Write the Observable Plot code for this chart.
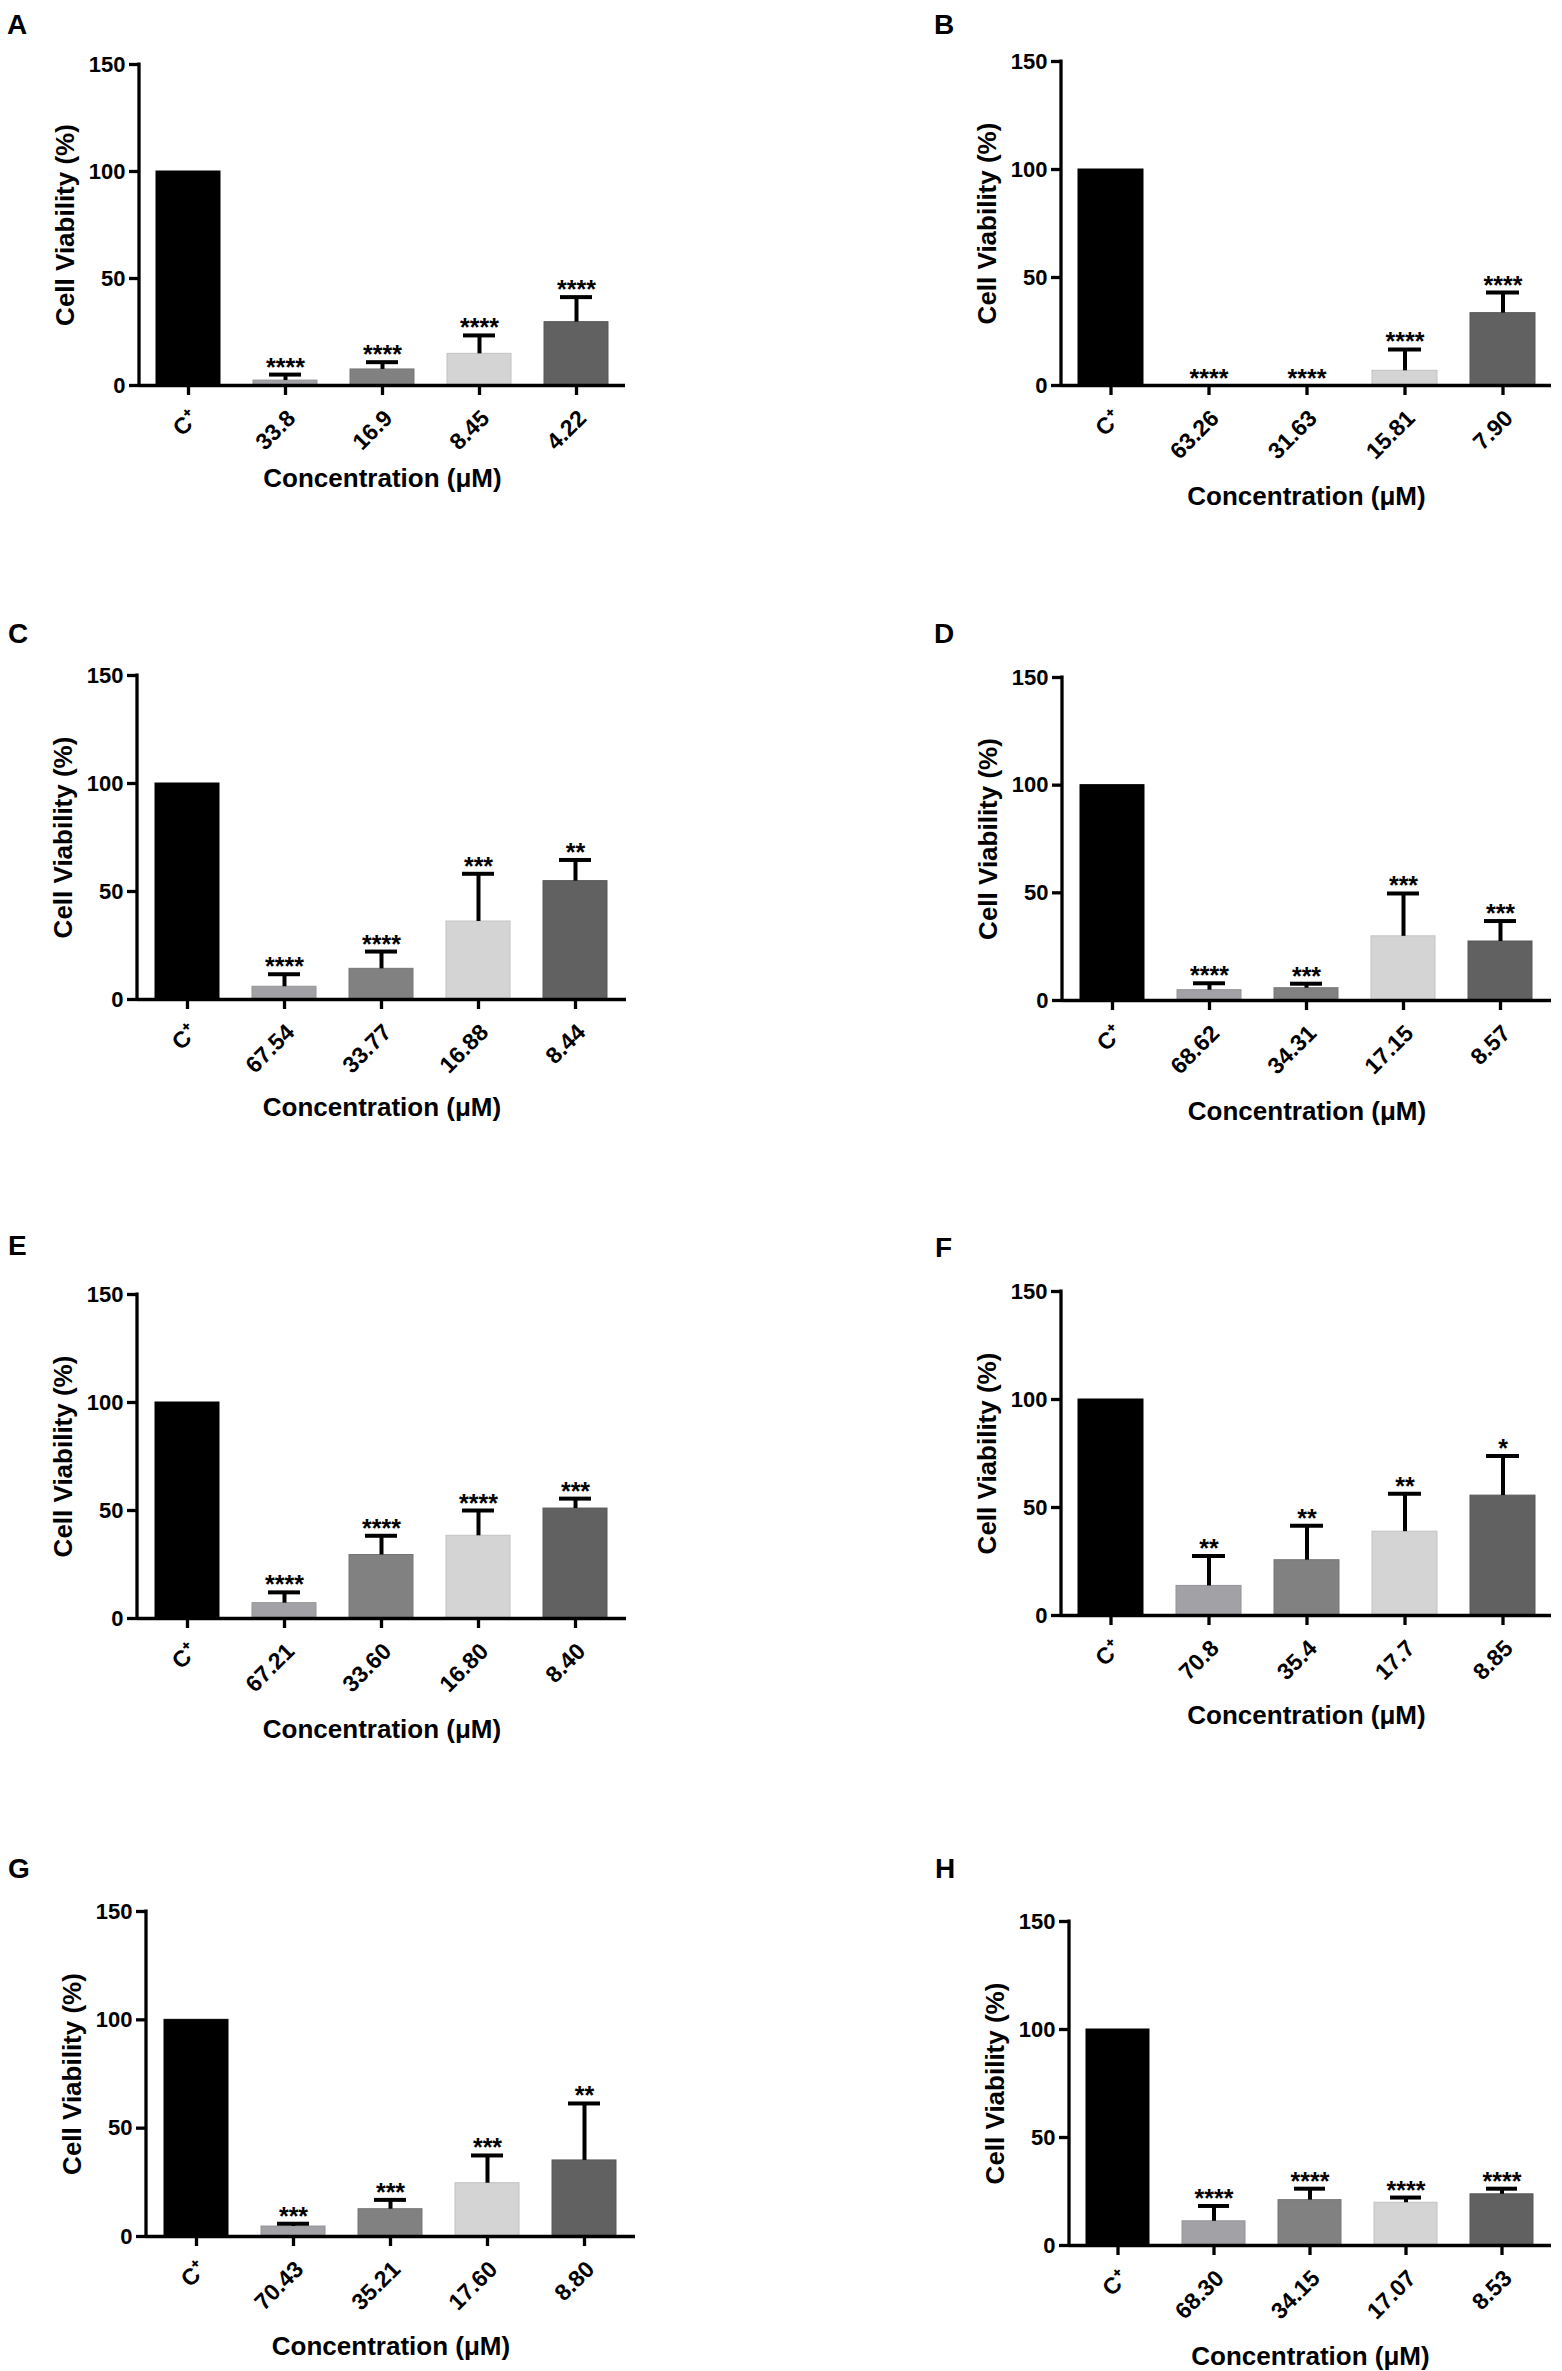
<!DOCTYPE html>
<html>
<head>
<meta charset="utf-8">
<script src="https://cdn.jsdelivr.net/npm/d3@7"></script>
<script src="https://cdn.jsdelivr.net/npm/@observablehq/plot@0.6"></script>
<style>
  html, body { margin: 0; padding: 0; background: #fff; }
  #fig { position: relative; width: 1562px; height: 2371px; background: #fff;
         font-family: "Liberation Sans", Arial, sans-serif; }
  .letter { position: absolute; font-weight: bold; font-size: 28px; line-height: 1; color: #000; }
  svg { position: absolute; overflow: visible; }
</style>
</head>
<body>
<div id="fig"></div>
<script>
// ---------- DATA ----------
const panelIds = ["A", "B", "C", "D", "E", "F", "G", "H"];

const labelsA = ["C⁺", "33.8", "16.9", "8.45", "4.22"];
const valuesA = [100, 2.3, 7.5, 14.8, 29.6];
const errorsA = [0, 2.8, 3.4, 8.6, 11.7];
const starsA  = ["", "****", "****", "****", "****"];

const labelsB = ["C⁺", "63.26", "31.63", "15.81", "7.90"];
const valuesB = [100, 0, 0, 6.8, 33.5];
const errorsB = [0, 0, 0, 9.9, 9.5];
const starsB  = ["", "****", "****", "****", "****"];

const labelsC = ["C⁺", "67.54", "33.77", "16.88", "8.44"];
const valuesC = [100, 5.9, 14.2, 36.1, 54.8];
const errorsC = [0, 5.8, 8.0, 22.1, 9.8];
const starsC  = ["", "****", "****", "***", "**"];

const labelsD = ["C⁺", "68.62", "34.31", "17.15", "8.57"];
const valuesD = [100, 4.8, 5.7, 29.8, 27.4];
const errorsD = [0, 3.2, 2.1, 19.9, 9.5];
const starsD  = ["", "****", "***", "***", "***"];

const labelsE = ["C⁺", "67.21", "33.60", "16.80", "8.40"];
const valuesE = [100, 7.1, 29.4, 38.3, 50.9];
const errorsE = [0, 5.0, 8.9, 11.7, 4.6];
const starsE  = ["", "****", "****", "****", "***"];

const labelsF = ["C⁺", "70.8", "35.4", "17.7", "8.85"];
const valuesF = [100, 13.7, 25.6, 38.8, 55.5];
const errorsF = [0, 13.9, 16.0, 17.6, 18.3];
const starsF  = ["", "**", "**", "**", "*"];

const labelsG = ["C⁺", "70.43", "35.21", "17.60", "8.80"];
const valuesG = [100, 4.6, 12.6, 24.6, 35.1];
const errorsG = [0, 1.3, 4.3, 12.8, 26.3];
const starsG  = ["", "***", "***", "***", "**"];

const labelsH = ["C⁺", "68.30", "34.15", "17.07", "8.53"];
const valuesH = [100, 11.2, 21.0, 19.8, 23.7];
const errorsH = [0, 7.1, 5.3, 2.4, 2.6];
const starsH  = ["", "****", "****", "****", "****"];

const yTicks = [0, 50, 100, 150];
const yTitle = "Cell Viability (%)";
const xTitle = "Concentration (μM)";

// ---------- STYLE / LAYOUT ----------
const barColors = ["#000000", "#a2a2a6", "#818181", "#d4d4d4", "#616161"];

const panelData = {
  A: {labels: labelsA, values: valuesA, errors: errorsA, stars: starsA},
  B: {labels: labelsB, values: valuesB, errors: errorsB, stars: starsB},
  C: {labels: labelsC, values: valuesC, errors: errorsC, stars: starsC},
  D: {labels: labelsD, values: valuesD, errors: errorsD, stars: starsD},
  E: {labels: labelsE, values: valuesE, errors: errorsE, stars: starsE},
  F: {labels: labelsF, values: valuesF, errors: errorsF, stars: starsF},
  G: {labels: labelsG, values: valuesG, errors: errorsG, stars: starsG},
  H: {labels: labelsH, values: valuesH, errors: errorsH, stars: starsH}
};

// x: y-axis position, y: top of plot (150), w/h: plot size, xl: x-title offset, lx/ly: letter
const layout = {
  A: {x: 139,  y: 64,   w: 486, h: 321, xl: 93,  lx: 7,   ly: 11},
  B: {x: 1061, y: 61,   w: 490, h: 324, xl: 111, lx: 934, ly: 11},
  C: {x: 137,  y: 675,  w: 489, h: 324, xl: 108, lx: 8,   ly: 620},
  D: {x: 1062, y: 677,  w: 489, h: 323, xl: 111, lx: 934, ly: 620},
  E: {x: 137,  y: 1294, w: 489, h: 324, xl: 111, lx: 8,   ly: 1232},
  F: {x: 1061, y: 1291, w: 490, h: 324, xl: 100, lx: 935, ly: 1234},
  G: {x: 146,  y: 1911, w: 489, h: 325, xl: 110, lx: 8,   ly: 1855},
  H: {x: 1069, y: 1921, w: 482, h: 324, xl: 111, lx: 935, ly: 1855}
};

const FONT = '"Liberation Sans", Arial, sans-serif';
const fig = document.getElementById("fig");

// left axis line drawn along the frame's left edge
function yAxisLine(index, scales, values, dims) {
  const l = document.createElementNS("http://www.w3.org/2000/svg", "line");
  l.setAttribute("x1", dims.marginLeft);
  l.setAttribute("x2", dims.marginLeft);
  l.setAttribute("y1", dims.marginTop - 1.5);
  l.setAttribute("y2", dims.height - dims.marginBottom + 1.5);
  l.setAttribute("stroke", "#000");
  l.setAttribute("stroke-width", 3.3);
  return l;
}

function makePanel(id) {
  const P = panelData[id];
  const L = layout[id];
  const mL = 110, mT = 40, mB = 150, mR = 14;
  const rows = P.labels.map((label, i) => ({
    label, value: P.values[i], err: P.errors[i], star: P.stars[i],
    fill: barColors[i], stroke: d3.color(barColors[i]).darker(0.25).formatHex()
  }));
  const withErr = rows.filter(r => r.err > 0);
  const withStar = rows.filter(r => r.star);

  const chart = Plot.plot({
    width: L.w + mL + mR,
    height: L.h + mT + mB,
    marginLeft: mL, marginRight: mR, marginTop: mT, marginBottom: mB,
    style: {fontFamily: FONT, fontWeight: "bold", fontSize: "22px", color: "#000",
            background: "transparent", overflow: "visible"},
    x: {type: "band", domain: P.labels, paddingInner: 0.34, paddingOuter: 0.17},
    y: {domain: [0, 150]},
    color: {type: "identity"},
    marks: [
      Plot.barY(rows, {x: "label", y: "value", fill: "fill", stroke: "stroke", strokeWidth: 1}),
      Plot.ruleX(withErr, {x: "label", y1: "value", y2: r => r.value + r.err, stroke: "#000", strokeWidth: 4}),
      Plot.tickY(withErr, {x: "label", y: r => r.value + r.err, stroke: "#000", strokeWidth: 4,
                           insetLeft: 16, insetRight: 16}),
      Plot.text(withStar, {x: "label", y: r => r.value + r.err, text: "star", lineAnchor: "bottom",
                           dy: 1, fontSize: 25, fontWeight: "bold", fill: "#000"}),
      Plot.ruleY([0], {stroke: "#000", strokeWidth: 3.3}),
      yAxisLine,
      Plot.axisY({ticks: yTicks, tickSize: 10, tickPadding: 4, strokeWidth: 3.3,
                  fontSize: 22, fontWeight: "bold", label: null, tickFormat: d => String(d)}),
      // x ticks (lines only)
      Plot.axisX({tickSize: 10, strokeWidth: 3.3, text: null, label: null}),
      // x tick labels, rotated
      Plot.axisX({tickSize: 0, tickPadding: 29, dx: 6, tickRotate: -45,
                  fontSize: 23, fontWeight: "bold", label: null}),
      Plot.text([yTitle], {text: d => d, frameAnchor: "left", textAnchor: "middle", lineAnchor: "middle",
                           dx: -74, rotate: -90, fontSize: 26, fontWeight: "bold", fill: "#000"}),
      Plot.text([xTitle], {text: d => d, frameAnchor: "bottom", lineAnchor: "middle", dy: L.xl,
                           fontSize: 26, fontWeight: "bold", fill: "#000"})
    ]
  });
  chart.style.left = (L.x - mL) + "px";
  chart.style.top = (L.y - mT) + "px";
  fig.appendChild(chart);

  const letter = document.createElement("div");
  letter.className = "letter";
  letter.textContent = id;
  letter.style.left = L.lx + "px";
  letter.style.top = L.ly + "px";
  fig.appendChild(letter);
}

panelIds.forEach(makePanel);
</script>
</body>
</html>
